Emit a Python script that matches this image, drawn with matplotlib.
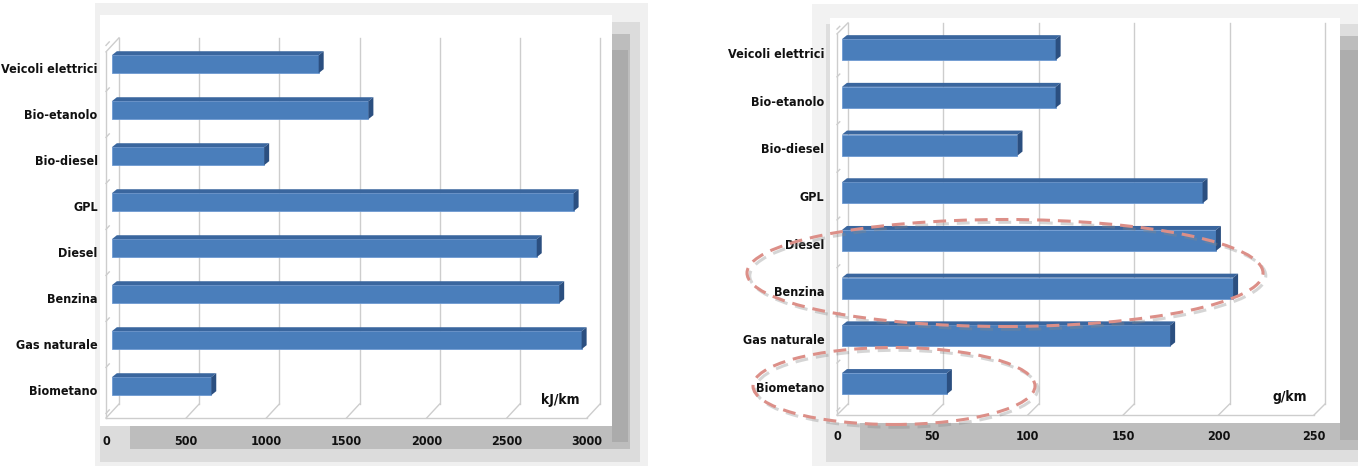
import numpy as np
import matplotlib
matplotlib.use("Agg")
import matplotlib.pyplot as plt
from matplotlib.patches import Rectangle, Polygon, Ellipse
import matplotlib.patheffects as pe

categorie = ["Veicoli elettrici", "Bio-etanolo", "Bio-diesel", "GPL",
             "Diesel", "Benzina", "Gas naturale", "Biometano"]
energia_kj = [1290, 1600, 950, 2880, 2650, 2790, 2930, 620]
co2_g = [112, 112, 92, 189, 196, 205, 172, 55]
tick_energia = [0, 500, 1000, 1500, 2000, 2500, 3000]
tick_co2 = [0, 50, 100, 150, 200, 250]

W, H = 1358, 468
plt.rcParams['font.family'] = ['DejaVu Sans']
plt.rcParams['font.stretch'] = 'condensed'
plt.rcParams['font.weight'] = 'bold'

fig = plt.figure(figsize=(W / 100, H / 100), dpi=100)


def px_rect(x0, y0, x1, y1, color, z=0):
    # rettangolo in pixel (origine in alto a sinistra)
    fig.add_artist(Rectangle((x0 / W, 1 - y1 / H), (x1 - x0) / W, (y1 - y0) / H,
                             transform=fig.transFigure, color=color, lw=0, zorder=z))


# cornici grigie con ombra
px_rect(95, 3, 648, 466, '#f0f0f0')
px_rect(100, 22, 640, 462, '#dcdcdc')
px_rect(130, 34, 630, 449, '#bdbdbd')
px_rect(612, 50, 628, 442, '#ababab')
px_rect(100, 15, 612, 426, 'white')

px_rect(812, 4, 1358, 466, '#f2f2f2')
px_rect(826, 24, 1358, 462, '#dedede')
px_rect(860, 36, 1358, 450, '#bdbdbd')
px_rect(1340, 50, 1358, 440, '#adadad')
px_rect(830, 18, 1340, 423, 'white')


def pannello(x0, x1, yb, spacing, ylo, yhi, xmax, valori, ticks, unita, upos,
             depth, wall_top, bar_h, pad_x, pad_y):
    ax = fig.add_axes([x0 / W, 1 - yb / H, (x1 - x0) / W,
                       (yhi - ylo) * spacing / H])
    ax.set_xlim(0, xmax)
    ax.set_ylim(ylo, yhi)
    ax.patch.set_visible(False)
    for s in ax.spines.values():
        s.set_visible(False)

    # conversione pixel -> unita dati
    ux = xmax / (x1 - x0)
    uy = 1.0 / spacing
    ddx, ddy = depth[0] * ux, depth[1] * uy
    grid = dict(color='#cdcdcd', lw=1.0, clip_on=False, zorder=1)

    # pareti e pavimento
    for t in ticks:
        ax.plot([t + ddx, t + ddx], [ylo + ddy, wall_top + ddy], **grid)
        ax.plot([t, t + ddx], [ylo, ylo + ddy], **grid)
    ax.plot([0, xmax], [ylo, ylo], **grid)
    ax.plot([0, 0], [ylo, wall_top], **grid)
    ax.plot([0, ddx], [wall_top, wall_top + ddy], **grid)
    for k in range(len(valori) + 1):
        yk = k - 0.5
        ax.plot([0, 0.25 * ddx], [yk, yk + 0.25 * ddy], **grid)

    # barre 3D
    ypos = np.arange(len(valori))[::-1]
    bx, by = 0.45 * ddx, 0.3 * ddy
    sx, sy = 5 * ux, 4 * uy
    ax.barh(ypos + by, valori, height=bar_h, left=bx, color='#4a7ebb',
            edgecolor='#6e9ad2', lw=0.6, zorder=3)
    for y, v in zip(ypos + by, valori):
        top = [(bx, y + bar_h / 2), (bx + v, y + bar_h / 2),
               (bx + v + sx, y + bar_h / 2 + sy), (bx + sx, y + bar_h / 2 + sy)]
        side = [(bx + v, y - bar_h / 2), (bx + v + sx, y - bar_h / 2 + sy),
                (bx + v + sx, y + bar_h / 2 + sy), (bx + v, y + bar_h / 2)]
        ax.add_patch(Polygon(top, closed=True, color='#3a669e', lw=0,
                             zorder=3, clip_on=False))
        ax.add_patch(Polygon(side, closed=True, color='#2b4f80', lw=0,
                             zorder=3, clip_on=False))

    ax.set_xticks(ticks)
    ax.set_xticklabels([str(t) for t in ticks])
    ax.set_yticks(ypos)
    ax.set_yticklabels(categorie)
    ax.tick_params(axis='x', length=0, pad=pad_x, labelsize=9, colors='#111111')
    ax.tick_params(axis='y', length=0, pad=pad_y, labelsize=9, colors='#111111')
    fig.text(upos[0] / W, 1 - upos[1] / H, unita, ha='center', va='center',
             fontsize=10, weight='bold', color='#111111')
    return ax


pannello(106, 587, 418, 46.0, -0.6, 7.6, 3000, energia_kj, tick_energia,
         'kJ/km', (560, 400), (13, 14), 7.36, 0.39, 12, 6)
pannello(837, 1314, 415, 47.7, -0.59, 7.6, 250, co2_g, tick_co2,
         'g/km', (1290, 397), (11, 11), 7.40, 0.44, 11, 9)

# evidenziazione con ellissi tratteggiate
ombra = [pe.SimpleLineShadow(offset=(2, -2), shadow_color='#888888', alpha=0.35),
         pe.Normal()]
for cx, cy, w, h in [(1005, 273, 516, 107), (894, 386, 282, 77)]:
    e = Ellipse((cx / W, 1 - cy / H), w / W, h / H, transform=fig.transFigure,
                fill=False, edgecolor='#dc8f88', lw=2.2,
                linestyle=(0, (4.2, 2.6)), zorder=10)
    e.set_path_effects(ombra)
    fig.add_artist(e)

fig.savefig('out.png', dpi=100)
